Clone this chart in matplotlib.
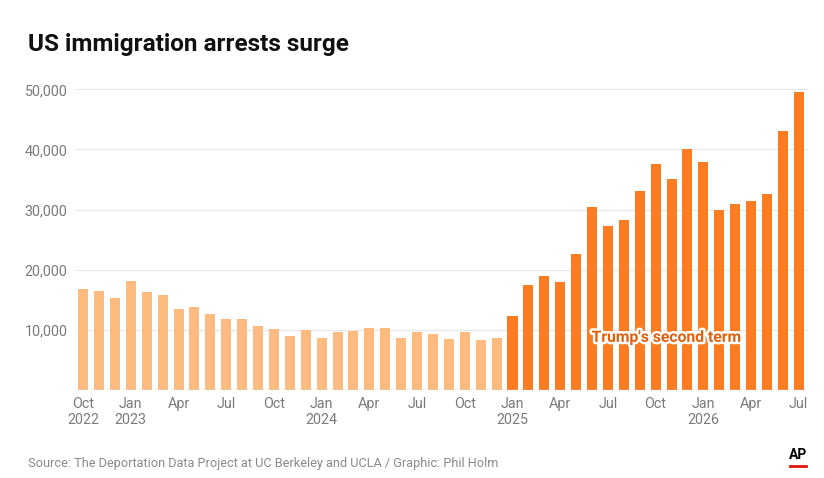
import matplotlib.pyplot as plt
import matplotlib.patheffects as pe
import numpy as np

plt.rcParams['font.family'] = ['Roboto', 'DejaVu Sans']

# monthly arrests, Oct 2022 - Dec 2024 (before) and Jan 2025 - Jul 2026 (second term)
before = [16800, 16400, 15250, 18100, 16250, 15750, 13400, 13750, 12600, 11750,
          11750, 10600, 10100, 8900, 9900, 8600, 9600, 9750, 10250, 10250,
          8600, 9600, 9250, 8400, 9600, 8250, 8600]
after = [12200, 17400, 18900, 17900, 22550, 30400, 27200, 28200, 33050, 37550,
         35050, 40050, 37900, 29900, 30900, 31400, 32550, 43050, 49550]

months = ["Oct", "Nov", "Dec", "Jan", "Feb", "Mar", "Apr", "May", "Jun", "Jul", "Aug", "Sep"]
start_year = 2022
yticks = [10000, 20000, 30000, 40000, 50000]

n_before = len(before)
x_before = np.arange(n_before)
x_after = np.arange(n_before, n_before + len(after))

fig = plt.figure(figsize=(8.24, 4.78), dpi=100)
ax = fig.add_axes([0.0922, 0.185, 0.8868, 0.6278])

ax.bar(x_before, before, width=0.63, color="#fdbb80", zorder=2)
ax.bar(x_after, after, width=0.63, color="#fd7b21", zorder=2)

ax.set_xlim(-0.45, 45.5)
ax.set_ylim(0, 50000)

# gridlines
for v in yticks:
    ax.axhline(v, color="#e8e8e8", lw=0.9, zorder=1, clip_on=False)
ax.axhline(0, color="#d0d0d0", lw=1, zorder=3)

ax.set_yticks(yticks)
ax.set_yticklabels(["{:,}".format(v) for v in yticks])
ax.tick_params(axis="y", length=0, pad=6, labelsize=10.3, labelcolor="#7a7a7a")

# x labels every 3 months, year under Jan and first label
ticks = []
labels = []
for i in range(n_before + len(after)):
    m = months[i % 12]
    if m in ("Oct", "Jan", "Apr", "Jul"):
        year = start_year + (i + 9) // 12
        ticks.append(i)
        if m == "Jan" or i == 0:
            labels.append(m + "\n" + str(year))
        else:
            labels.append(m)
ax.set_xticks(ticks)
ax.set_xticklabels(labels, linespacing=1.25)
ax.tick_params(axis="x", length=0, pad=5, labelsize=10.3, labelcolor="#7a7a7a")

for s in ax.spines.values():
    s.set_visible(False)

ax.text(36.7, 8700, "Trump's second term", ha="center", va="center",
        fontsize=11.3, fontweight="bold", color="#e2600c", zorder=4,
        path_effects=[pe.withStroke(linewidth=3.5, foreground="white")])

fig.text(28 / 824, 1 - 51 / 478, "US immigration arrests surge", fontsize=17.5,
         fontweight="bold", color="#111111", ha="left", va="baseline")
fig.text(28 / 824, 1 - 467 / 478,
         "Source: The Deportation Data Project at UC Berkeley and UCLA / Graphic: Phil Holm",
         fontsize=9.2, color="#8a8a8a", ha="left", va="baseline")
fig.text(798 / 824, 1 - 459 / 478, "AP", fontsize=10, fontweight="bold",
         color="black", ha="center", va="baseline")
fig.add_artist(plt.Line2D([790 / 824, 806 / 824], [1 - 466 / 478, 1 - 466 / 478],
                          color="#e3120b", lw=2))

fig.savefig("out.png", dpi=100)
